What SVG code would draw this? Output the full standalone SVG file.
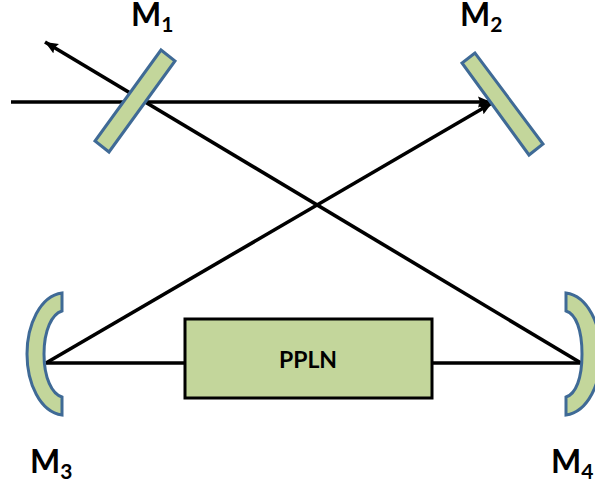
<svg xmlns="http://www.w3.org/2000/svg" width="595" height="486" viewBox="0 0 595 486">
<style>
.m{fill:#c3d69b;stroke:#3f6a96;stroke-width:3;stroke-linejoin:miter}
.c{fill:none;stroke:#000;stroke-width:3.6}
.t{font-family:"Lato","Open Sans",sans-serif;font-weight:700;fill:#000;font-size:32px}
.s{font-size:21px}
</style>
<defs>
<marker id="a" markerUnits="userSpaceOnUse" markerWidth="14" markerHeight="12" refX="13" refY="6" orient="auto"><path d="M0 0.500L13 6L0 11.500L2 6Z" fill="#000"/></marker>
</defs>
<g id="connectors">
<path class="c" d="M11 102H491" marker-end="url(#a)"/>
<path class="c" d="M46 363L492 103" marker-end="url(#a)"/>
<path class="c" d="M581 363L45 42" marker-end="url(#a)"/>
<path class="c" d="M46 363H185M432 363H581"/>
</g>
<g id="M1"><path class="m" d="M161 50L175 61L109 152L95 141Z"/><text class="t" x="131" y="26">M<tspan class="s" dy="6">1</tspan></text></g>
<g id="M2"><path class="m" d="M475 53L462 63L529 155L543 144Z"/><text class="t" x="460" y="26">M<tspan class="s" dy="6">2</tspan></text></g>
<g id="M3"><path class="m" d="M62 293V311C52 314 44 330 44 354C44 378 52 394 62 397V415C40 412 27 383 27 354C27 325 40 296 62 293Z"/><text class="t" x="30" y="473">M<tspan class="s" dy="6">3</tspan></text></g>
<g id="M4"><path class="m" d="M566 293V311C576 314 582 330 582 354C582 378 576 394 566 397V415C588 412 601 383 601 354C601 325 588 296 566 293Z"/><text class="t" x="551" y="473">M<tspan class="s" dy="6">4</tspan></text></g>
<g id="PPLN"><rect x="185" y="319" width="247" height="79" fill="#c3d69b" stroke="#000" stroke-width="3"/><text x="308" y="368" text-anchor="middle" style="font-family:Lato,'Open Sans',sans-serif;font-weight:700;font-size:23px">PPLN</text></g>
</svg>
